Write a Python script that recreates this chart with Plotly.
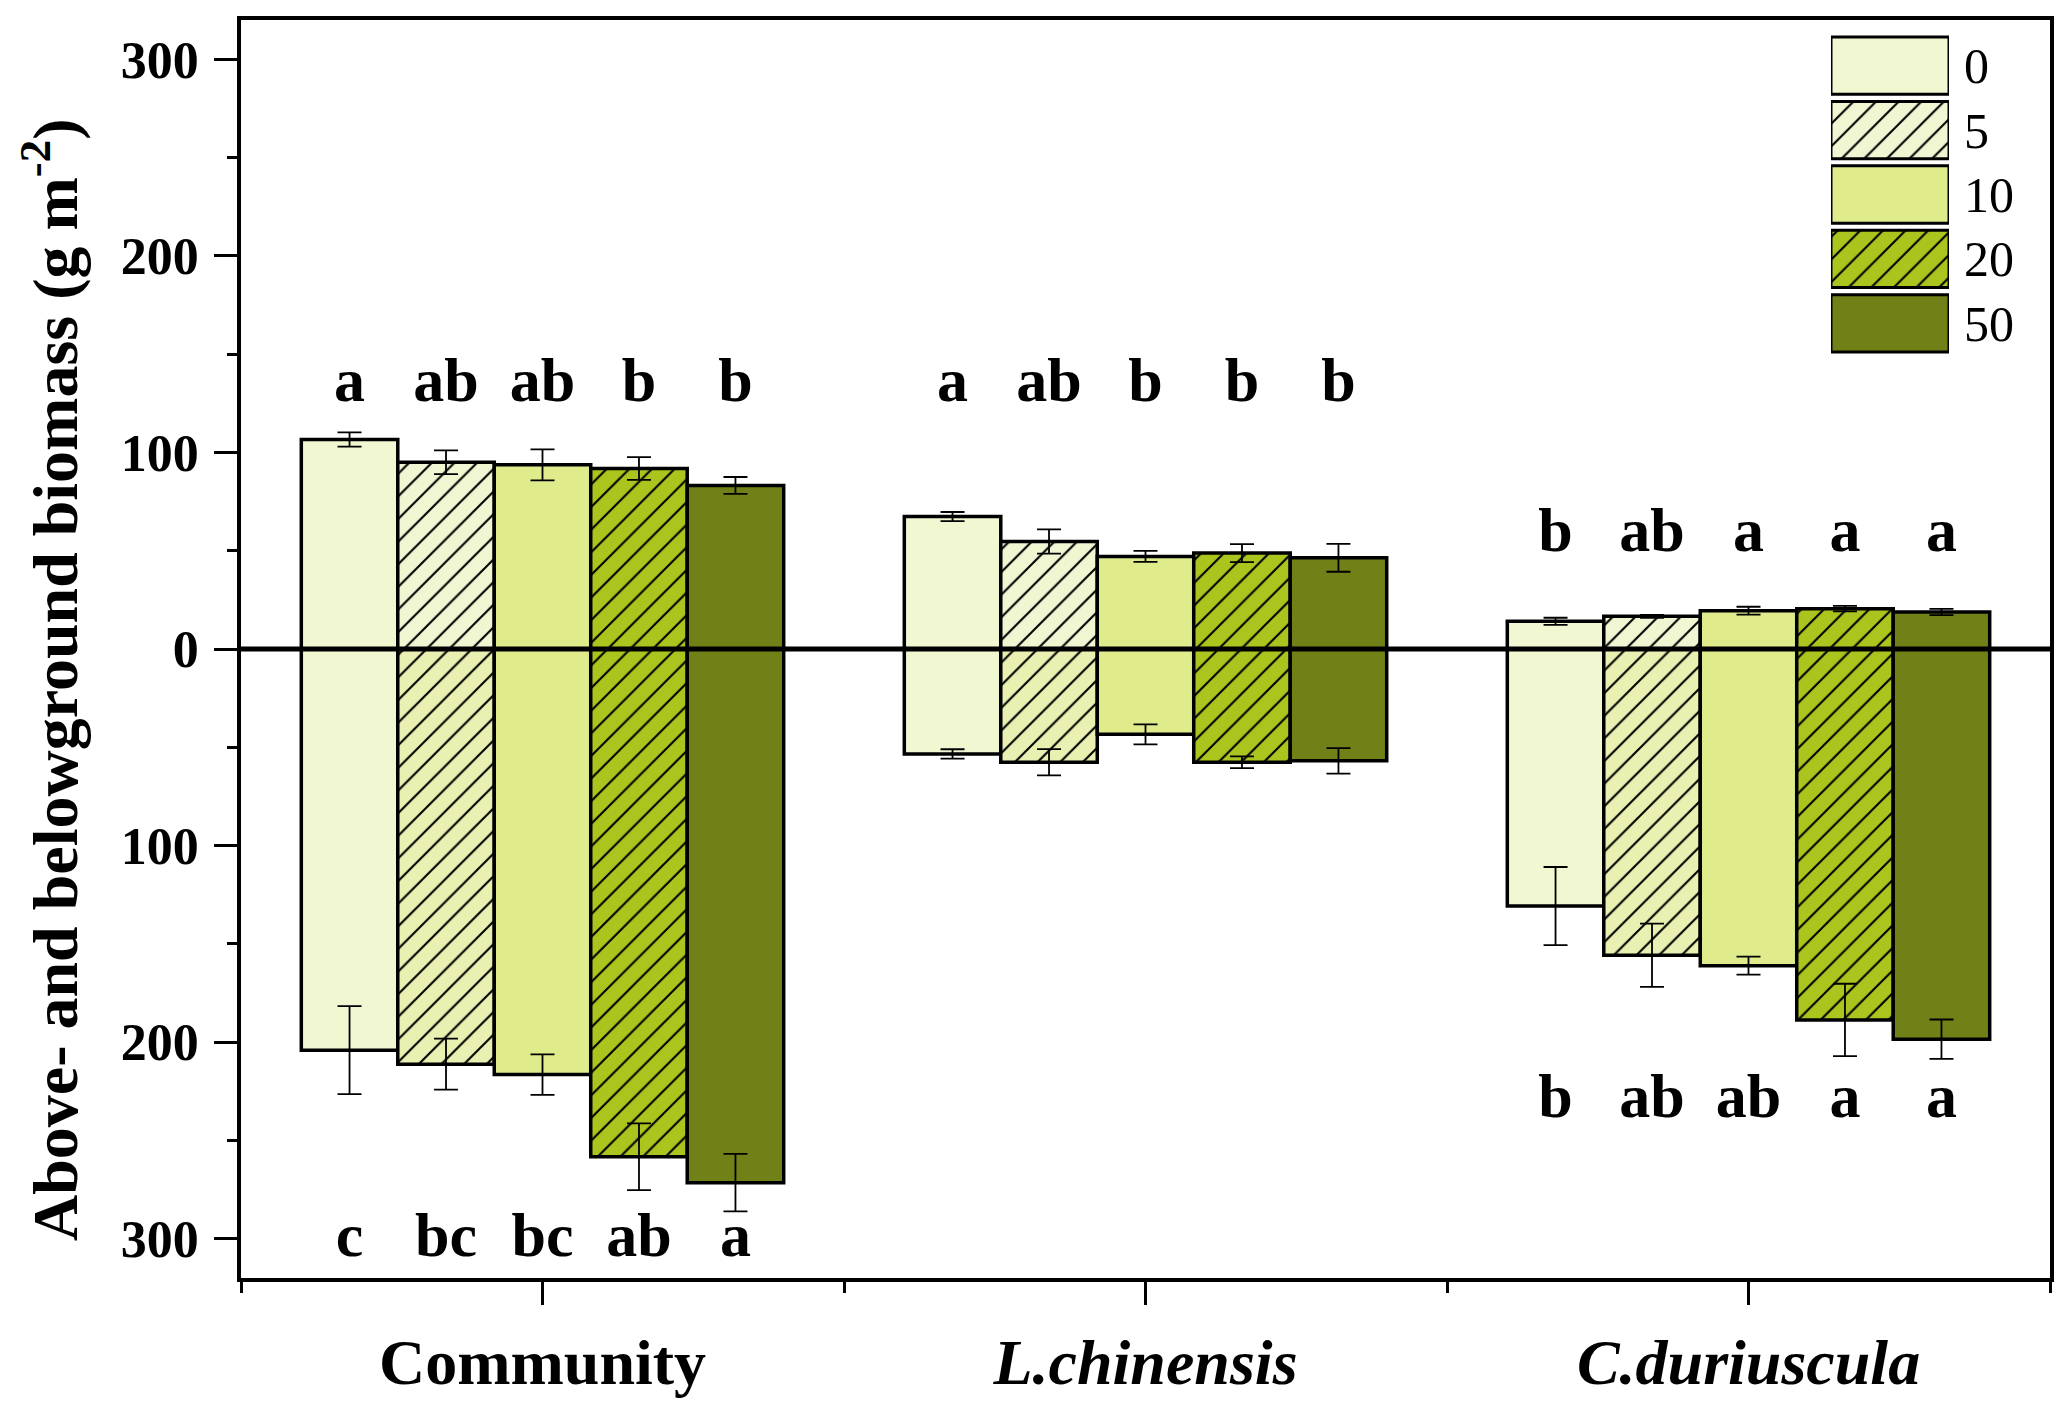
import plotly.graph_objects as go

# ---------------- data ----------------
groups = ["Community", "L.chinensis", "C.duriuscula"]
group_labels = ["<b>Community</b>", "<b><i>L.chinensis</i></b>", "<b><i>C.duriuscula</i></b>"]
treatments = ["0", "5", "10", "20", "50"]

above_0 = [106.6, 67.4, 14.1]
above_5 = [95.0, 54.7, 16.6]
above_10 = [93.7, 47.1, 19.5]
above_20 = [91.8, 48.8, 20.5]
above_50 = [83.2, 46.4, 18.8]

above_se_0 = [3.6, 2.3, 1.8]
above_se_5 = [6.0, 6.2, 0.8]
above_se_10 = [7.9, 2.8, 2.0]
above_se_20 = [5.8, 4.6, 1.4]
above_se_50 = [4.3, 7.1, 1.6]

below_0 = [204.1, 53.4, 130.8]
below_5 = [211.2, 57.6, 155.8]
below_10 = [216.5, 43.4, 161.1]
below_20 = [258.3, 57.6, 188.7]
below_50 = [271.5, 56.9, 198.5]

below_se_0 = [22.4, 2.4, 19.9]
below_se_5 = [13.0, 6.7, 16.1]
below_se_10 = [10.3, 5.1, 4.6]
below_se_20 = [17.0, 3.0, 18.4]
below_se_50 = [14.6, 6.5, 10.0]

# significance letters (above: all groups; below: Community and C.duriuscula)
letters_above_0 = ["a", "a", "b"]
letters_above_5 = ["ab", "ab", "ab"]
letters_above_10 = ["ab", "b", "a"]
letters_above_20 = ["b", "b", "a"]
letters_above_50 = ["b", "b", "a"]
letter_above_level = [134, 134, 57.5]

letters_below_0 = ["c", "b"]
letters_below_5 = ["bc", "ab"]
letters_below_10 = ["bc", "ab"]
letters_below_20 = ["ab", "a"]
letters_below_50 = ["a", "a"]
letter_below_groups = [0, 2]
letter_below_level = [-301, -230]

ytick_vals = [-300, -200, -100, 0, 100, 200, 300]
ytick_text = ["300", "200", "100", "0", "100", "200", "300"]

# ---------------- styling ----------------
FONT = "Liberation Serif"
colors_above = ["#F1F7D0", "#F1F6D2", "#E0EB8C", "#ACC41E", "#728117"]
colors_below = ["#F1F7D0", "#E9F0B2", "#E0EB8C", "#ACC41E", "#728117"]
patterns = ["", "/", "", "/", ""]

above_all = [above_0, above_5, above_10, above_20, above_50]
above_se_all = [above_se_0, above_se_5, above_se_10, above_se_20, above_se_50]
below_all = [below_0, below_5, below_10, below_20, below_50]
below_se_all = [below_se_0, below_se_5, below_se_10, below_se_20, below_se_50]
la_all = [letters_above_0, letters_above_5, letters_above_10, letters_above_20, letters_above_50]
lb_all = [letters_below_0, letters_below_5, letters_below_10, letters_below_20, letters_below_50]

xpos = list(range(len(groups)))
n = len(treatments)
group_width = 0.8
bw = group_width / n

fig = go.Figure()

for i, t in enumerate(treatments):
    off = -group_width / 2 + bw * i
    for vals, se, col, sign in [(above_all[i], above_se_all[i], colors_above[i], 1),
                                (below_all[i], below_se_all[i], colors_below[i], -1)]:
        fig.add_trace(go.Bar(
            x=xpos, y=[sign * v for v in vals],
            width=bw, offset=off,
            marker=dict(color=col,
                        line=dict(color="black", width=3.5),
                        pattern=dict(shape=patterns[i], fgcolor="black", bgcolor=col,
                                     size=16, solidity=0.13, fillmode="replace")),
            error_y=dict(type="data", array=se, symmetric=True, color="black",
                         thickness=1.8, width=12),
            showlegend=False, hoverinfo="skip",
        ))
    # letters
    cx = [x + off + bw / 2 for x in xpos]
    fig.add_trace(go.Scatter(
        x=cx, y=letter_above_level, text=la_all[i], mode="text",
        textposition="middle center",
        textfont=dict(family=FONT, size=62, color="black", weight="bold"),
        showlegend=False, cliponaxis=False, hoverinfo="skip"))
    fig.add_trace(go.Scatter(
        x=[cx[g] for g in letter_below_groups], y=letter_below_level, text=lb_all[i],
        mode="text", textposition="middle center",
        textfont=dict(family=FONT, size=62, color="black", weight="bold"),
        showlegend=False, cliponaxis=False, hoverinfo="skip"))

# legend key drawn as an inset bar chart (one bar per treatment)
for i, t in enumerate(treatments):
    fig.add_trace(go.Bar(
        x=[1], y=[t], orientation="h", xaxis="x2", yaxis="y2",
        width=0.89,
        marker=dict(color=colors_above[i],
                    line=dict(color="black", width=3),
                    pattern=dict(shape=patterns[i], fgcolor="black", bgcolor=colors_above[i],
                                 size=16, solidity=0.13, fillmode="replace")),
        showlegend=False, hoverinfo="skip"))

W, H = 2067, 1415
ml, mr, mt, mb = 241, 17, 20, 137
pw, ph = W - ml - mr, H - mt - mb

def px_x(px):
    return (px - ml) / pw

def px_y(py):
    return (H - mb - py) / ph

fig.update_layout(
    width=W, height=H,
    margin=dict(l=ml, r=mr, t=mt, b=mb, autoexpand=False),
    paper_bgcolor="white", plot_bgcolor="white",
    barmode="overlay",
    font=dict(family=FONT, color="black"),
    xaxis=dict(
        range=[-0.5, 2.5], tickmode="array", tickvals=xpos, ticktext=group_labels,
        tickfont=dict(family=FONT, size=64, color="black"),
        ticks="outside", ticklen=23, tickwidth=3, tickcolor="black",
        ticklabelstandoff=2, automargin=False,
        minor=dict(tickvals=[-0.5, 0.5, 1.5, 2.5], ticks="outside", ticklen=11,
                   tickwidth=3, tickcolor="black"),
        showline=True, linewidth=3.5, linecolor="black", mirror=True,
        showgrid=False, zeroline=False,
    ),
    yaxis=dict(
        range=[-320, 320], tickmode="array", tickvals=ytick_vals, ticktext=ytick_text,
        tickfont=dict(family=FONT, size=52, color="black", weight="bold"),
        ticks="outside", ticklen=23, tickwidth=3, tickcolor="black",
        ticklabelstandoff=5, automargin=False,
        minor=dict(tickvals=[-250, -150, -50, 50, 150, 250], ticks="outside", ticklen=10,
                   tickwidth=3, tickcolor="black"),
        showline=True, linewidth=3.5, linecolor="black", mirror=True,
        showgrid=False, zeroline=False,
    ),
    xaxis2=dict(domain=[px_x(1831), px_x(1949)], range=[0, 1], anchor="y2",
                visible=False, fixedrange=True, automargin=False),
    yaxis2=dict(domain=[px_y(355.5), px_y(33.5)], anchor="x2", type="category",
                range=[4.5, -0.5], side="right", showline=False, showgrid=False,
                zeroline=False, ticks="", ticklabelstandoff=14, automargin=False,
                tickfont=dict(family=FONT, size=50, color="black")),
    shapes=[dict(type="line", xref="paper", yref="y", x0=0, x1=1, y0=0, y1=0,
                 line=dict(color="black", width=5), layer="above")],
    annotations=[dict(
        text="<b>Above- and belowground biomass (g m<sup>-2</sup>)</b>",
        xref="paper", yref="paper", x=px_x(50), y=px_y(680),
        xanchor="center", yanchor="middle", textangle=-90, showarrow=False,
        font=dict(family=FONT, size=64, color="black"))],
)

fig.write_html("out.html", config={"displayModeBar": False},
               post_script="document.body.style.margin='0';")
